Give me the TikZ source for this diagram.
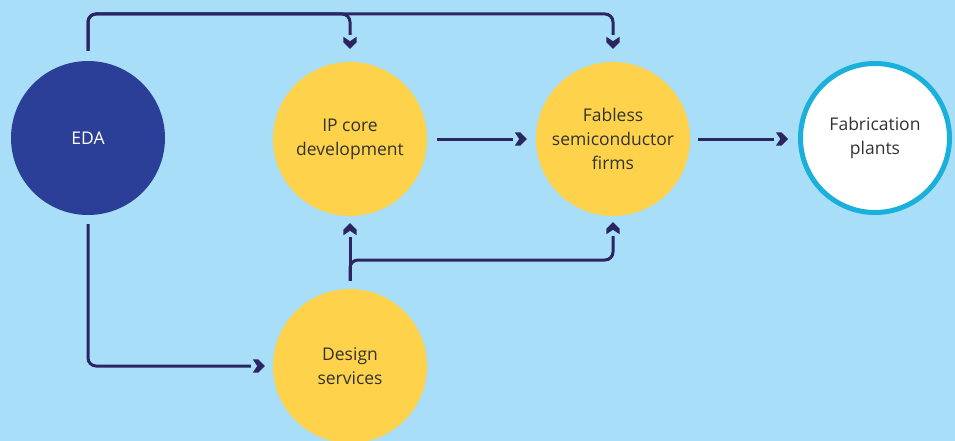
\documentclass[tikz,border=0pt]{standalone}
\usepackage{fontspec}
\setmainfont{Open Sans}

\definecolor{bgblue}{HTML}{A8DEF8}
\definecolor{edablue}{HTML}{2B3F98}
\definecolor{sunny}{HTML}{FED24B}
\definecolor{navy}{HTML}{2B2562}
\definecolor{cyanring}{HTML}{1AB0DC}
\definecolor{textgray}{HTML}{333333}

% filled chevron tip; the line stops a little behind it
\pgfdeclarearrow{
  name = Chev,
  setup code = {
    \pgfarrowssettipend{0pt}
    \pgfarrowssetbackend{-12pt}
    \pgfarrowssetlineend{-14pt}
    \pgfarrowshullpoint{0pt}{0pt}
    \pgfarrowshullpoint{-12pt}{6.6pt}
    \pgfarrowshullpoint{-12pt}{-6.6pt}
  },
  drawing code = {
    \pgfpathmoveto{\pgfqpoint{0pt}{0pt}}
    \pgfpathlineto{\pgfqpoint{-6.4pt}{6.6pt}}
    \pgfpathlineto{\pgfqpoint{-12pt}{6.6pt}}
    \pgfpathlineto{\pgfqpoint{-7.6pt}{0pt}}
    \pgfpathlineto{\pgfqpoint{-12pt}{-6.6pt}}
    \pgfpathlineto{\pgfqpoint{-6.4pt}{-6.6pt}}
    \pgfpathclose
    \pgfusepathqfill
  }
}

\tikzset{
  blob/.style={circle, minimum size=154pt, inner sep=0pt, align=center,
    font=\fontsize{17.5}{24}\selectfont, text=textgray},
  yellowblob/.style={blob, fill=sunny},
  conn/.style={draw=navy, line width=3pt, rounded corners=8pt, -Chev}
}

\begin{document}
\begin{tikzpicture}[x=1pt, y=-1pt]
  \fill[bgblue] (0,0) rectangle (955,441);
  \useasboundingbox (0,0) rectangle (955,441);

  \node[blob, fill=edablue, text=white] (eda) at (88,138) {EDA};
  \node[yellowblob] (ip) at (350,139) {IP core\\development};
  \node[yellowblob] (fab) at (613,139) {Fabless\\semiconductor\\firms};
  \node[blob, fill=white, draw=cyanring, line width=5pt, minimum size=149pt]
    (plant) at (875,138) {Fabrication\\plants};
  \node[yellowblob] (ds) at (350,366) {Design\\services};

  \coordinate (topbus) at (0,14);
  \coordinate (midbus) at (0,260);

  % EDA feeds IP core development and the fabless firms from above
  \draw[conn, shorten <=10pt, shorten >=13pt]
    (eda.north) |- (ip.north |- topbus) -- (ip.north);
  \draw[conn, shorten <=10pt, shorten >=13pt]
    (eda.north) |- (fab.north |- topbus) -- (fab.north);
  % EDA feeds design services from below
  \draw[conn, shorten <=9pt, shorten >=8pt] (eda.south) |- (ds.west);

  % main chain
  \draw[conn, shorten <=10pt, shorten >=9pt] (ip.east) -- (ip.east -| fab.west);
  \draw[conn, shorten <=8pt, shorten >=10pt] (fab.east) -- (fab.east -| plant.west);

  % design services feed back upwards
  \draw[conn, shorten <=8pt, shorten >=7pt] (ds.north) -- (ip.south);
  \draw[conn, shorten <=8pt, shorten >=6pt]
    (ds.north) |- (fab.south |- midbus) -- (fab.south);
\end{tikzpicture}
\end{document}
